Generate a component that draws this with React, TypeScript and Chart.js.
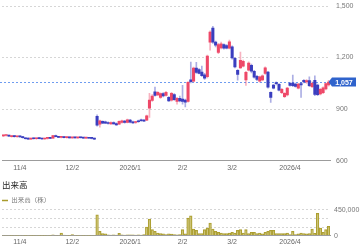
import React, { useEffect, useRef } from 'react';
import { Chart, registerables } from 'chart.js';

Chart.register(...registerables);

const FONT = '"Liberation Sans", "Noto Sans CJK JP", sans-serif';

// Trading days (categories)
const oct2025 = [24, 27, 28, 29, 30, 31];
const nov2025 = [4, 5, 6, 7, 10, 11, 12, 13, 14, 17, 18, 19, 20, 21, 25, 26, 27, 28];
const dec2025 = [1, 2, 3, 4, 5, 8, 9, 10, 11, 12, 15, 16, 17, 18, 19, 22, 23, 24, 25, 26, 29, 30];
const jan2026 = [5, 6, 7, 8, 9, 13, 14, 15, 16, 19, 20, 21, 22, 23, 26, 27, 28, 29, 30];
const feb2026 = [2, 3, 4, 5, 6, 9, 10, 12, 13, 16, 17, 18, 19, 20, 24, 25, 26, 27];
const mar2026 = [2, 3, 4, 5, 6, 9, 10, 11, 12, 13, 16, 17, 18, 19, 23, 24, 25, 26, 27, 30, 31];
const apr2026 = [1, 2, 3, 6, 7, 8, 9, 10, 13, 14, 15, 16, 17, 20, 21];

const pad = (n: number) => (n < 10 ? '0' + n : '' + n);
const categories: string[] = [
  ...oct2025.map((d) => `2025-10-${pad(d)}`),
  ...nov2025.map((d) => `2025-11-${pad(d)}`),
  ...dec2025.map((d) => `2025-12-${pad(d)}`),
  ...jan2026.map((d) => `2026-01-${pad(d)}`),
  ...feb2026.map((d) => `2026-02-${pad(d)}`),
  ...mar2026.map((d) => `2026-03-${pad(d)}`),
  ...apr2026.map((d) => `2026-04-${pad(d)}`),
];

const tickDates = ['2025-11-04', '2025-12-02', '2026-01-05', '2026-02-02', '2026-03-02', '2026-04-01'];
const tickLabels = ['11/4', '12/2', '2026/1', '2/2', '3/2', '2026/4'];

const priceTicks = [600, 900, 1200, 1500];
const volumeTicks = [0, 150000, 300000, 450000];
const volumeLabelTicks = [0, 450000];

const opens = [
  744, 746, 748, 740, 742, 739, 741, 740, 731, 728, 725, 729, 727, 730, 728, 726, 729, 731, 730, 745,
  740, 735, 737, 734, 736, 732, 734, 732, 735, 733, 731, 733, 730, 729,
  858, 812, 828, 825, 822, 814, 822, 816, 812, 822, 830, 822, 836, 826, 822, 832, 838, 836,
  836, 905, 950, 1000, 982, 968, 990, 980, 968, 952, 985, 945, 962, 958, 952, 945,
  1070, 1062, 1138, 1130, 1115, 1100, 1088, 1290, 1371, 1290, 1230, 1256, 1275, 1270, 1254, 1262, 1196, 1126,
  1140, 1150, 1070, 1126, 1155, 1120, 1090, 1062, 1070, 1108, 1116, 997, 1040, 1052, 1044, 995, 972, 982,
  1050, 1052, 1046, 1022, 1048, 1068, 1058, 1066, 1030, 1068, 1040, 988, 996, 1018, 1040,
];
const highs = [
  748, 750, 749, 744, 745, 743, 744, 742, 734, 732, 731, 733, 732, 734, 731, 731, 733, 734, 747, 748,
  742, 739, 740, 738, 739, 736, 737, 736, 738, 736, 735, 736, 733, 731,
  866, 836, 832, 830, 826, 826, 826, 820, 832, 836, 834, 842, 840, 830, 828, 836, 842, 840,
  865, 992, 985, 1028, 1002, 995, 996, 1003, 972, 998, 990, 968, 975, 1038, 958, 1060,
  1173, 1145, 1172, 1136, 1150, 1108, 1214, 1355, 1382, 1296, 1282, 1290, 1280, 1276, 1302, 1268, 1200, 1130,
  1232, 1185, 1120, 1175, 1162, 1125, 1096, 1092, 1100, 1146, 1120, 1000, 1044, 1058, 1048, 1020, 996, 1026,
  1055, 1098, 1052, 1050, 1055, 1072, 1072, 1088, 1058, 1094, 1046, 1020, 1030, 1052, 1068,
];
const lows = [
  740, 742, 740, 736, 737, 735, 736, 731, 725, 723, 723, 725, 724, 726, 724, 723, 725, 727, 729, 738,
  733, 732, 732, 731, 730, 729, 730, 729, 731, 729, 728, 729, 726, 722,
  800, 795, 815, 815, 812, 810, 812, 805, 810, 818, 818, 820, 820, 816, 816, 822, 828, 828,
  832, 852, 945, 975, 978, 962, 970, 975, 944, 946, 950, 928, 942, 928, 912, 940,
  1052, 1058, 1108, 1104, 1090, 1072, 1082, 1243, 1282, 1262, 1222, 1250, 1248, 1250, 1250, 1190, 1140, 1068,
  1136, 1145, 1038, 1122, 1110, 1080, 1066, 1056, 1066, 1102, 1022, 939, 1018, 1040, 1005, 990, 966, 976,
  1034, 1030, 1028, 1018, 968, 1052, 1050, 1030, 1025, 978, 978, 982, 990, 1012, 1034,
];
const closes = [
  747, 748, 742, 742, 740, 741, 738, 733, 727, 725, 729, 727, 730, 728, 726, 729, 731, 729, 745, 740,
  735, 737, 734, 736, 732, 734, 732, 735, 733, 731, 733, 730, 729, 725,
  806, 832, 818, 818, 816, 822, 814, 808, 828, 832, 822, 838, 824, 820, 824, 826, 832, 830,
  860, 952, 975, 980, 998, 990, 976, 998, 948, 992, 955, 962, 948, 944, 940, 1056,
  1060, 1138, 1114, 1108, 1095, 1080, 1208, 1348, 1290, 1272, 1276, 1280, 1255, 1254, 1292, 1198, 1146, 1102,
  1184, 1178, 1114, 1167, 1120, 1085, 1072, 1088, 1094, 1140, 1028, 968, 1022, 1048, 1010, 1015, 992, 1022,
  1038, 1036, 1032, 1046, 1040, 1058, 1066, 1036, 1050, 985, 984, 1015, 1024, 1048, 1057,
];
const volumes = [
  8000, 6000, 7000, 5000, 6000, 5000, 7000, 6000, 5000, 6000, 5000, 4000, 6000, 5000, 4000, 5000, 6000, 5000, 12000, 8000,
  6000, 46000, 10000, 6000, 5000, 17000, 6000, 5000, 6000, 5000, 6000, 5000, 6000, 8000,
  364000, 75000, 35000, 30000, 12000, 10000, 12000, 10000, 40000, 12000, 10000, 12000, 14000, 12000, 10000, 14000, 10000, 18000,
  150000, 290000, 104000, 75000, 46000, 35000, 29000, 17000, 29000, 25000, 17000, 14000, 20000, 104000, 29000, 306000,
  346000, 115000, 92000, 35000, 35000, 104000, 133000, 219000, 115000, 75000, 58000, 46000, 35000, 35000, 46000, 58000, 46000, 92000,
  104000, 46000, 104000, 35000, 58000, 58000, 35000, 46000, 29000, 58000, 75000, 92000, 92000, 35000, 35000, 35000, 35000, 46000,
  17000, 75000, 17000, 29000, 46000, 35000, 29000, 35000, 115000, 40000, 392000, 133000, 58000, 104000, 162000,
];

const UP = '#ee4868';
const DOWN = '#3a3ebf';
const UP_WICK = 'rgba(238,72,104,0.42)';
const DOWN_WICK = 'rgba(58,62,191,0.42)';
const VOL_LINE = '#a99b2c';
const VOL_FILL = 'rgba(214,205,120,0.38)';

const tickIdx = tickDates.map((d) => categories.indexOf(d));
const lastPrice = closes[closes.length - 1];

const fmt = (v: number) => Number(v).toLocaleString('en-US');

const xAxis = (padding: number) => ({
  grid: { display: false, drawTicks: false },
  border: { display: true, color: '#9c9c9c', width: 1 },
  afterBuildTicks: (scale: any) => {
    scale.ticks = scale.ticks.filter((t: any) => tickIdx.includes(t.value));
  },
  ticks: {
    autoSkip: false,
    maxRotation: 0,
    padding,
    color: '#666',
    font: { size: 7, family: FONT },
    callback: (value: any) => {
      const i = tickIdx.indexOf(Number(value));
      return i >= 0 ? tickLabels[i] : '';
    },
  },
});

const yFit = (scale: any) => {
  scale.width = 30;
  scale.paddingTop = 0;
  scale.paddingBottom = 0;
};

const lastPricePlugin = {
  id: 'lastPrice',
  beforeDatasetsDraw(chart: any) {
    const { ctx, chartArea, scales } = chart;
    const y = Math.round(scales.y.getPixelForValue(lastPrice)) + 0.5;
    ctx.save();
    ctx.strokeStyle = '#6f9cf0';
    ctx.lineWidth = 1;
    ctx.setLineDash([2, 2]);
    ctx.beginPath();
    ctx.moveTo(0, y);
    ctx.lineTo(chartArea.right, y);
    ctx.stroke();
    ctx.restore();
  },
  afterDraw(chart: any) {
    const { ctx, chartArea, scales } = chart;
    const y = scales.y.getPixelForValue(lastPrice);
    const x0 = chartArea.right + 2;
    const x1 = 356;
    const h = 9;
    ctx.save();
    ctx.fillStyle = '#2f63cc';
    ctx.beginPath();
    ctx.moveTo(chartArea.right - 1.5, y);
    ctx.lineTo(x0, y - h / 2);
    ctx.lineTo(x1, y - h / 2);
    ctx.lineTo(x1, y + h / 2);
    ctx.lineTo(x0, y + h / 2);
    ctx.closePath();
    ctx.fill();
    ctx.fillStyle = '#ffffff';
    ctx.font = `bold 7px ${FONT}`;
    ctx.textAlign = 'center';
    ctx.textBaseline = 'middle';
    ctx.fillText(fmt(lastPrice), (x0 + x1) / 2, y + 0.5);
    ctx.restore();
  },
};

const legendTrimPlugin = {
  id: 'legendTrim',
  beforeLayout(chart: any) {
    const lg = chart.legend;
    if (lg && !lg.__trimmed) {
      const orig = lg.fit.bind(lg);
      lg.fit = function () {
        orig();
        this.height = Math.max(0, this.height - 3.75);
      };
      lg.__trimmed = true;
    }
  },
};

export default function App() {
  const priceRef = useRef<HTMLCanvasElement | null>(null);
  const volRef = useRef<HTMLCanvasElement | null>(null);

  useEffect(() => {
    if (!priceRef.current || !volRef.current) return;

    const priceChart = new Chart(priceRef.current, {
      type: 'bar',
      data: {
        labels: categories,
        datasets: [
          {
            label: 'body',
            data: opens.map((o, i) => [o, closes[i]]) as any,
            backgroundColor: opens.map((o, i) => (closes[i] >= o ? UP : DOWN)),
            barThickness: 2.4,
            minBarLength: 1,
            grouped: false,
            order: 1,
          } as any,
          {
            label: 'wick',
            data: lows.map((l, i) => [l, highs[i]]) as any,
            backgroundColor: opens.map((o, i) => (closes[i] >= o ? UP_WICK : DOWN_WICK)),
            barThickness: 1,
            grouped: false,
            order: 2,
          } as any,
        ],
      },
      options: {
        animation: false,
        responsive: false,
        layout: { padding: { top: 6, left: 2, right: 0, bottom: 0 } },
        plugins: { legend: { display: false }, tooltip: { enabled: false }, title: { display: false } },
        scales: {
          x: xAxis(3) as any,
          y: {
            position: 'right',
            min: 600,
            max: 1500,
            afterBuildTicks: (scale: any) => {
              scale.ticks = priceTicks.map((v) => ({ value: v }));
            },
            afterFit: yFit,
            grid: { color: '#d6d6d6', drawTicks: false, lineWidth: 1 },
            border: { display: false, dash: [2, 2] },
            ticks: {
              autoSkip: false,
              padding: 6,
              color: '#777',
              font: { size: 7, family: FONT },
              callback: (v: any) => fmt(v),
            },
          } as any,
        },
      },
      plugins: [lastPricePlugin],
    });

    const volChart = new Chart(volRef.current, {
      type: 'bar',
      data: {
        labels: categories,
        datasets: [
          {
            label: '出来高（株）',
            data: volumes,
            backgroundColor: VOL_FILL,
            borderColor: VOL_LINE,
            borderWidth: 0.8,
            barThickness: 2.6,
          },
        ],
      },
      options: {
        animation: false,
        responsive: false,
        layout: { padding: { top: 0, left: 2, right: 0, bottom: 0 } },
        plugins: {
          tooltip: { enabled: false },
          title: {
            display: true,
            text: '出来高',
            align: 'start',
            color: '#222',
            padding: { top: 1, bottom: 6 },
            font: { size: 8.5, weight: 'normal', family: FONT },
          },
          legend: {
            display: true,
            align: 'start',
            labels: {
              usePointStyle: true,
              pointStyleWidth: 6,
              padding: 0,
              color: '#777',
              font: { size: 6.5, family: FONT },
              generateLabels: () => [
                {
                  text: '出来高（株）',
                  fillStyle: VOL_LINE,
                  strokeStyle: VOL_LINE,
                  lineWidth: 1.5,
                  pointStyle: 'line',
                  hidden: false,
                  datasetIndex: 0,
                  fontColor: '#777',
                } as any,
              ],
            },
          },
        },
        scales: {
          x: xAxis(2) as any,
          y: {
            position: 'right',
            min: 0,
            max: 450000,
            afterBuildTicks: (scale: any) => {
              scale.ticks = volumeTicks.map((v) => ({ value: v }));
            },
            afterFit: yFit,
            grid: { color: '#d6d6d6', drawTicks: false, lineWidth: 1 },
            border: { display: false, dash: [2, 2] },
            ticks: {
              autoSkip: false,
              padding: 4,
              color: '#777',
              font: { size: 7, family: FONT },
              callback: (v: any) => (volumeLabelTicks.includes(Number(v)) ? fmt(v) : ''),
            },
          } as any,
        },
      },
      plugins: [legendTrimPlugin],
    });

    return () => {
      priceChart.destroy();
      volChart.destroy();
    };
  }, []);

  return (
    <div style={{ position: 'absolute', left: 0, top: 0, width: 360, height: 248, background: '#fff' }}>
      <canvas ref={priceRef} width={360} height={175} style={{ position: 'absolute', left: 0, top: 0, width: 360, height: 175 }} />
      <canvas ref={volRef} width={360} height={68} style={{ position: 'absolute', left: 0, top: 180, width: 360, height: 68 }} />
    </div>
  );
}
